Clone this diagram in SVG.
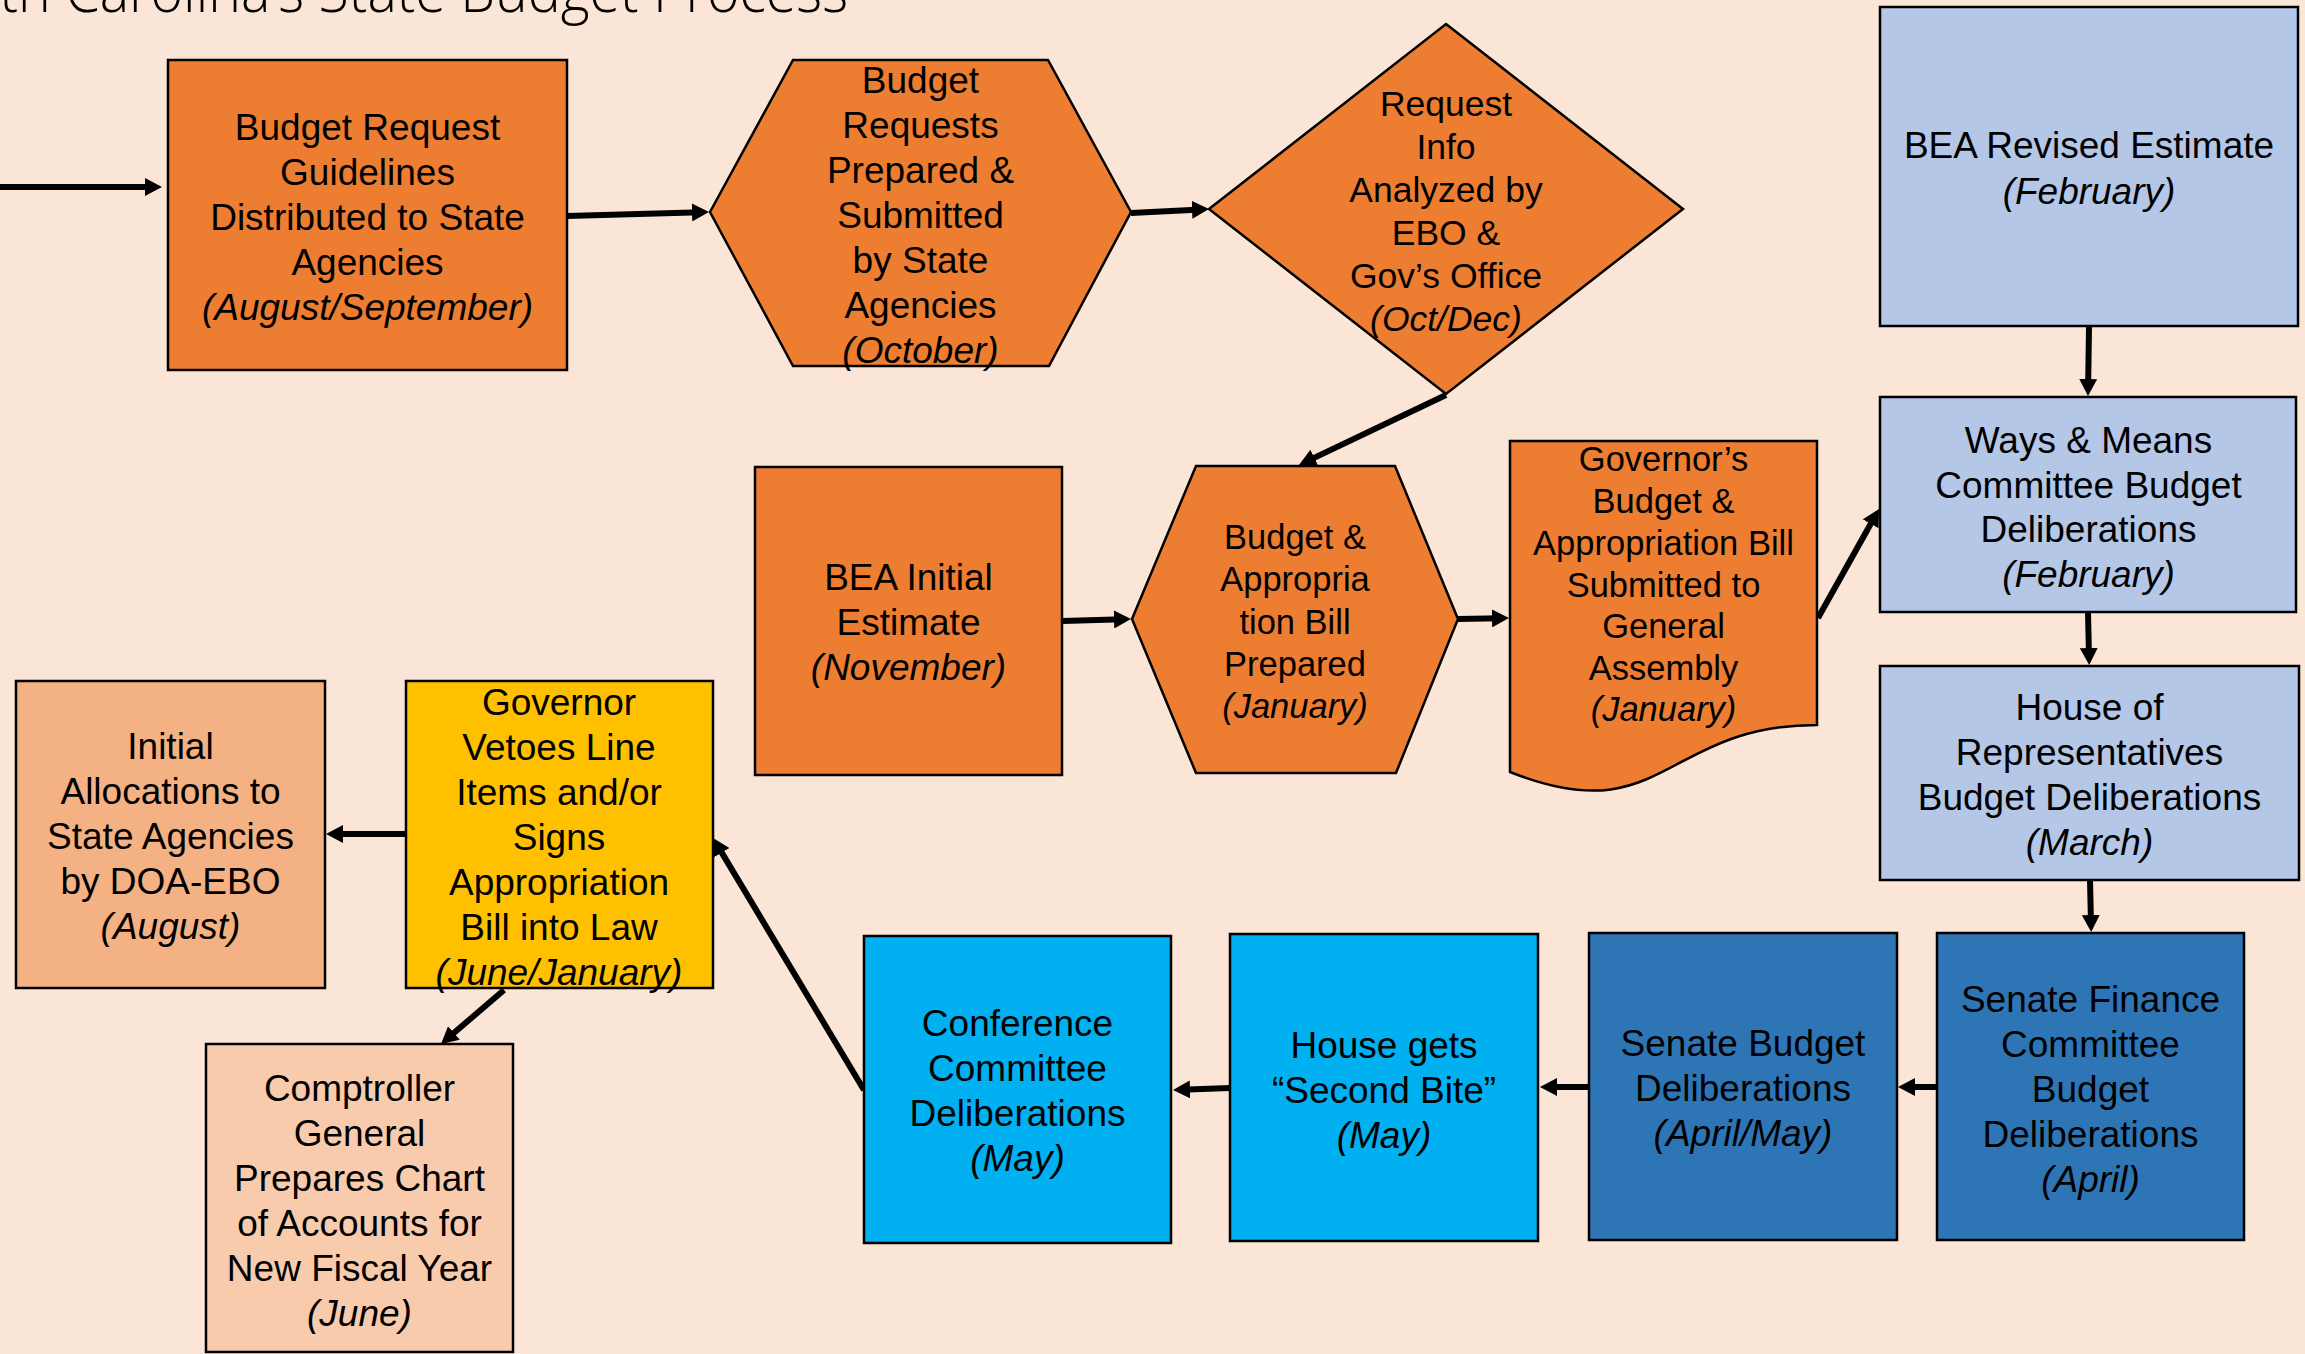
<svg xmlns="http://www.w3.org/2000/svg" width="2305" height="1354" viewBox="0 0 2305 1354">
<defs>
<marker id="arr" markerUnits="userSpaceOnUse" markerWidth="17" markerHeight="18" viewBox="0 0 17 18" refX="9" refY="9" orient="auto">
<path d="M0,0 L17,9 L0,18 Z" fill="#000"/>
</marker>
<style>
.bg{fill:#FBE5D6}
.shp{stroke:#000;stroke-width:2.5}
.or{fill:#ED7D31}
.lb{fill:#B4C7E7}
.db{fill:#2E75B6}
.cy{fill:#00B0F0}
.ye{fill:#FFC000}
.pk{fill:#F4B183}
.pl{fill:#F8CBAD}
.t{font-family:"Liberation Sans",Arial,sans-serif;font-size:37px;fill:#000;text-anchor:middle}
.s{font-size:34.5px}
.m{font-size:35.5px}
.i{font-style:italic}
.title{font-family:"Open Sans","Liberation Sans",sans-serif;font-weight:300;font-size:60px;fill:#000}
#connectors line{stroke:#000;stroke-width:6;marker-end:url(#arr)}
</style>
</defs>
<rect class="bg" x="0" y="0" width="2305" height="1354"/>
<text class="title" x="-96" y="12" textLength="944" lengthAdjust="spacingAndGlyphs">South Carolina’s State Budget Process</text>

<g id="connectors">
<line x1="0" y1="187" x2="154" y2="187"/>
<line x1="567" y1="216" x2="701" y2="212.2"/>
<line x1="1131" y1="213" x2="1201" y2="209.4"/>
<line x1="1446" y1="395" x2="1306.2" y2="461.6"/>
<line x1="1063" y1="621" x2="1123" y2="619.2"/>
<line x1="1458" y1="619" x2="1501" y2="618.2"/>
<line x1="1818" y1="618" x2="1875.1" y2="516"/>
<line x1="2089" y1="327" x2="2088.1" y2="388"/>
<line x1="2088" y1="612" x2="2089" y2="657"/>
<line x1="2090" y1="880" x2="2091" y2="924"/>
<line x1="1937" y1="1087" x2="1906" y2="1087"/>
<line x1="1589" y1="1087" x2="1548" y2="1087"/>
<line x1="1230" y1="1088" x2="1181" y2="1089.7"/>
<line x1="864" y1="1090" x2="717.1" y2="844.9"/>
<line x1="406" y1="834" x2="334" y2="834"/>
<line x1="504" y1="990" x2="447.1" y2="1038.8"/>
</g>

<g id="n1">
<rect class="shp or" x="168" y="60" width="399" height="310"/>
<text class="t"><tspan x="367.5" y="140">Budget Request</tspan><tspan x="367.5" y="185">Guidelines</tspan><tspan x="367.5" y="230">Distributed to State</tspan><tspan x="367.5" y="275">Agencies</tspan><tspan x="367.5" y="320" class="i">(August/September)</tspan></text>
</g>

<g id="n2">
<polygon class="shp or" points="710,212 793,60 1048,60 1131,212 1049,366 793,366"/>
<text class="t"><tspan x="920.5" y="93">Budget</tspan><tspan x="920.5" y="138">Requests</tspan><tspan x="920.5" y="183">Prepared &amp;</tspan><tspan x="920.5" y="228">Submitted</tspan><tspan x="920.5" y="273">by State</tspan><tspan x="920.5" y="318">Agencies</tspan><tspan x="920.5" y="363" class="i">(October)</tspan></text>
</g>

<g id="n3">
<polygon class="shp or" points="1446,24 1683,209 1446,394 1209,209"/>
<text class="t m"><tspan x="1446" y="115.5">Request</tspan><tspan x="1446" y="158.5">Info</tspan><tspan x="1446" y="201.5">Analyzed by</tspan><tspan x="1446" y="244.5">EBO &amp;</tspan><tspan x="1446" y="287.5">Gov’s Office</tspan><tspan x="1446" y="330.5" class="i">(Oct/Dec)</tspan></text>
</g>

<g id="n4">
<rect class="shp lb" x="1880" y="7" width="418" height="319"/>
<text class="t"><tspan x="2089" y="158">BEA Revised Estimate</tspan><tspan x="2089" y="203.5" class="i">(February)</tspan></text>
</g>

<g id="n5">
<rect class="shp lb" x="1880" y="397" width="416" height="215"/>
<text class="t"><tspan x="2088.5" y="453">Ways &amp; Means</tspan><tspan x="2088.5" y="498">Committee Budget</tspan><tspan x="2088.5" y="542">Deliberations</tspan><tspan x="2088.5" y="587" class="i">(February)</tspan></text>
</g>

<g id="n6">
<rect class="shp lb" x="1880" y="666" width="419" height="214"/>
<text class="t"><tspan x="2089.5" y="720">House of</tspan><tspan x="2089.5" y="765">Representatives</tspan><tspan x="2089.5" y="810">Budget Deliberations</tspan><tspan x="2089.5" y="855" class="i">(March)</tspan></text>
</g>

<g id="n7">
<rect class="shp db" x="1937" y="933" width="307" height="307"/>
<text class="t"><tspan x="2090.5" y="1012">Senate Finance</tspan><tspan x="2090.5" y="1057">Committee</tspan><tspan x="2090.5" y="1102">Budget</tspan><tspan x="2090.5" y="1147">Deliberations</tspan><tspan x="2090.5" y="1192" class="i">(April)</tspan></text>
</g>

<g id="n8">
<rect class="shp db" x="1589" y="933" width="308" height="307"/>
<text class="t"><tspan x="1743" y="1056">Senate Budget</tspan><tspan x="1743" y="1101">Deliberations</tspan><tspan x="1743" y="1146" class="i">(April/May)</tspan></text>
</g>

<g id="n9">
<rect class="shp cy" x="1230" y="934" width="308" height="307"/>
<text class="t"><tspan x="1384" y="1058">House gets</tspan><tspan x="1384" y="1103">“Second Bite”</tspan><tspan x="1384" y="1148" class="i">(May)</tspan></text>
</g>

<g id="n10">
<rect class="shp cy" x="864" y="936" width="307" height="307"/>
<text class="t"><tspan x="1017.5" y="1036">Conference</tspan><tspan x="1017.5" y="1081">Committee</tspan><tspan x="1017.5" y="1126">Deliberations</tspan><tspan x="1017.5" y="1171" class="i">(May)</tspan></text>
</g>

<g id="n11">
<rect class="shp ye" x="406" y="681" width="307" height="307"/>
<text class="t"><tspan x="559" y="715">Governor</tspan><tspan x="559" y="760">Vetoes Line</tspan><tspan x="559" y="805">Items and/or</tspan><tspan x="559" y="850">Signs</tspan><tspan x="559" y="895">Appropriation</tspan><tspan x="559" y="940">Bill into Law</tspan><tspan x="559" y="985" class="i">(June/January)</tspan></text>
</g>

<g id="n12">
<rect class="shp pk" x="16" y="681" width="309" height="307"/>
<text class="t"><tspan x="170.5" y="759">Initial</tspan><tspan x="170.5" y="804">Allocations to</tspan><tspan x="170.5" y="849">State Agencies</tspan><tspan x="170.5" y="894">by DOA-EBO</tspan><tspan x="170.5" y="939" class="i">(August)</tspan></text>
</g>

<g id="n13">
<rect class="shp pl" x="206" y="1044" width="307" height="308"/>
<text class="t"><tspan x="359.5" y="1101">Comptroller</tspan><tspan x="359.5" y="1146">General</tspan><tspan x="359.5" y="1191">Prepares Chart</tspan><tspan x="359.5" y="1236">of Accounts for</tspan><tspan x="359.5" y="1281">New Fiscal Year</tspan><tspan x="359.5" y="1326" class="i">(June)</tspan></text>
</g>

<g id="n14">
<rect class="shp or" x="755" y="467" width="307" height="308"/>
<text class="t"><tspan x="908.5" y="590">BEA Initial</tspan><tspan x="908.5" y="635">Estimate</tspan><tspan x="908.5" y="680" class="i">(November)</tspan></text>
</g>

<g id="n15">
<polygon class="shp or" points="1132,619 1196,466 1395,466 1458,619 1396,773 1196,773"/>
<text class="t s"><tspan x="1295" y="549">Budget &amp;</tspan><tspan x="1295" y="591">Appropria</tspan><tspan x="1295" y="633.5">tion Bill</tspan><tspan x="1295" y="675.5">Prepared</tspan><tspan x="1295" y="718" class="i">(January)</tspan></text>
</g>

<g id="n16">
<path class="shp or" d="M1510,441 H1817 V725 C1663.5,725 1663.5,833 1510,772 Z"/>
<text class="t s"><tspan x="1663.5" y="471">Governor’s</tspan><tspan x="1663.5" y="513">Budget &amp;</tspan><tspan x="1663.5" y="554.5">Appropriation Bill</tspan><tspan x="1663.5" y="596.5">Submitted to</tspan><tspan x="1663.5" y="638">General</tspan><tspan x="1663.5" y="680">Assembly</tspan><tspan x="1663.5" y="721" class="i">(January)</tspan></text>
</g>
</svg>
